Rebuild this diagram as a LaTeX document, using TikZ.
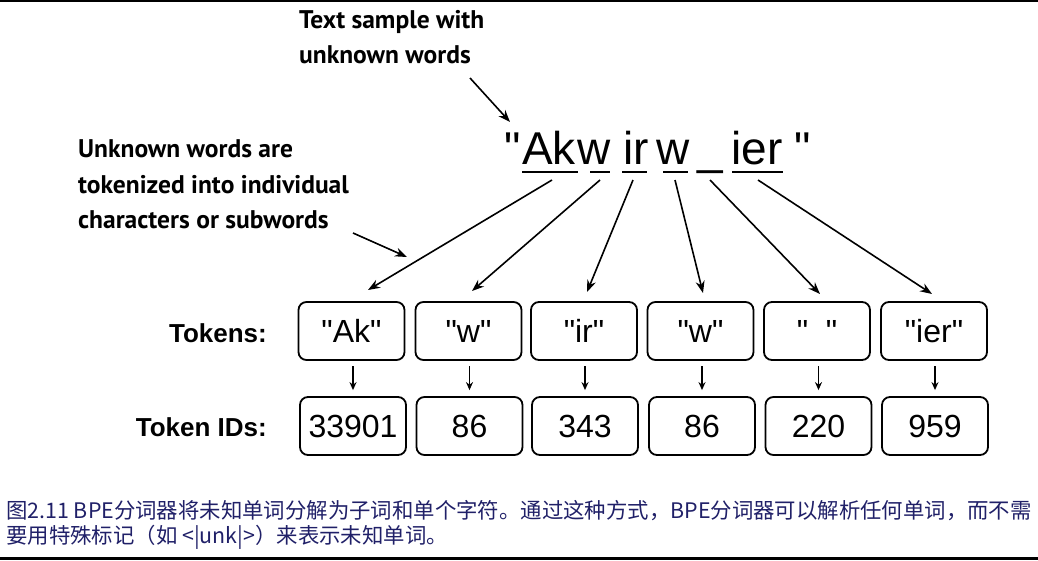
\documentclass[tikz,border=0pt]{standalone}
\usepackage{fontspec}
\setmainfont{Liberation Sans}[Ligatures=TeXOff]
\newfontfamily\annfont{PT Sans}
\newfontfamily\cjk{Noto Sans CJK SC}
\usetikzlibrary{arrows.meta,calc}
\definecolor{capblue}{RGB}{32,32,104}
\begin{document}
\begin{tikzpicture}[x=1pt,y=-1pt,
  tok/.style={draw,line width=1.8pt,rounded corners=8pt,minimum width=106pt,minimum height=58pt,inner sep=0pt,font=\fontsize{32}{36}\selectfont},
  big/.style={anchor=base,inner sep=0pt,font=\fontsize{46}{50}\selectfont},
  arr/.style={line width=1.6pt,-{Stealth[length=12pt,width=9pt]}},
  sarr/.style={line width=1.4pt,-{Stealth[length=8pt,width=7pt]}},
  ann/.style={anchor=base west,inner sep=0pt,font=\annfont\bfseries\fontsize{25.5}{30}\selectfont},
  lab/.style={anchor=east,inner sep=0pt,font=\bfseries\fontsize{26}{30}\selectfont},
  uline/.style={line width=2pt},
  captext/.style={anchor=base west,inner sep=0pt,text=capblue,font=\cjk\fontsize{21.4}{26}\selectfont}]
\useasboundingbox (0,0) rectangle (1038,560);
\fill[black] (0,0) rectangle (1038,1.5);
\fill[black] (0,556.5) rectangle (1038,560);

% annotations
\node[ann] (a1) at (299,28) {Text sample with};
\node[ann] (a2) at (299,63) {unknown words};
\node[ann] (b1) at (78,157) {Unknown words are};
\node[ann] (b2) at (78,193) {tokenized into individual};
\node[ann] (b3) at (78,228) {characters or subwords};
\coordinate (a1s) at (470,78);
\coordinate (a1e) at (510,122);
\coordinate (b1s) at (353,233);
\coordinate (b1e) at (407,257);
\draw[arr] (a1s) -- (a1e);
\draw[arr] (b1s) -- (b1e);

% the word
\node[big] (wq1) at (512.5,164) {"};
\node[big] (wAk) at (549,164) {Ak};
\node[big] (ww1) at (594,164) {w};
\node[big] (wir) at (636,164) {ir};
\node[big] (ww2) at (673.5,164) {w};
\node[big] (wus) at (710,164) {\_};
\node[big] (wier) at (757,164) {ier};
\node[big] (wq2) at (803,164) {"};
\draw[uline] (522,172) -- (578,172);
\draw[uline] (590,172) -- (610,172);
\draw[uline] (622,172) -- (647,172);
\draw[uline] (663,172) -- (688,172);
\draw[uline] (732,172) -- (783,172);

% labels
\node[lab] (ltok) at (267,333) {Tokens:};
\node[lab] (lid) at (267,427) {Token IDs:};

% token boxes
\node[tok] (tAk) at (351.5,331) {"Ak"};
\node[tok] (tw1) at (468.5,331) {"w"};
\node[tok] (tir) at (584,331) {"ir"};
\node[tok] (tw2) at (700.5,331) {"w"};
\node[tok] (tsp) at (817,331) {"\ \ "};
\node[tok] (tier) at (934,331) {"ier"};

% id boxes
\node[tok] (iAk) at (353,426) {33901};
\node[tok] (iw1) at (469.5,426) {86};
\node[tok] (iir) at (585,426) {343};
\node[tok] (iw2) at (702,426) {86};
\node[tok] (isp) at (818.5,426) {220};
\node[tok] (iier) at (935,426) {959};

% connectors from word pieces to tokens
\coordinate (uAk) at (552,180);
\coordinate (uw1) at (600,180);
\coordinate (uir) at (633,180);
\coordinate (uw2) at (675,180);
\coordinate (usp) at (710,180);
\coordinate (uier) at (758,180);
\coordinate (eAk) at (368,290);
\coordinate (ew1) at (472,291);
\coordinate (eir) at (587,292);
\coordinate (ew2) at (703,293);
\coordinate (esp) at (820,294);
\coordinate (eier) at (932,294);
\foreach \n in {Ak,w1,ir,w2,sp,ier}{
  \draw[arr] (u\n) -- (e\n);
  \draw[sarr] ($(i\n.north)+(0,-30)$) -- ($(i\n.north)+(0,-6)$);
}

% caption
\node[captext] (c1) at (6,518) {图2.11 BPE分词器将未知单词分解为子词和单个字符。通过这种方式，BPE分词器可以解析任何单词，而不需};
\node[captext] (c2) at (6,543) {要用特殊标记（如 <|unk|>）来表示未知单词。};
\end{tikzpicture}
\end{document}
